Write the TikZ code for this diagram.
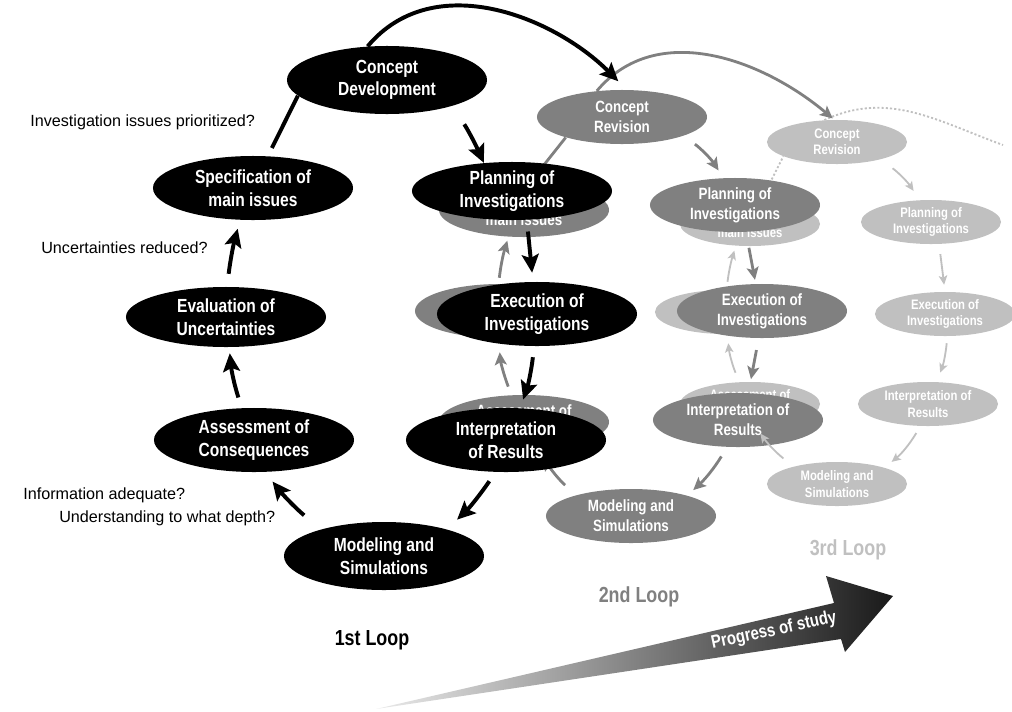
\documentclass[tikz,border=0pt]{standalone}
\usepackage{fontspec}
\setmainfont{Liberation Sans}
\newfontfamily\narrowfont[FakeStretch=0.82]{Liberation Sans}
\usetikzlibrary{shapes.geometric,arrows.meta}
\definecolor{loopgray}{HTML}{808080}
\definecolor{looplight}{HTML}{C0C0C0}

\begin{document}
\begin{tikzpicture}[x=0.025cm, y=0.025cm,
        firstloop/.style={ellipse, fill=black, text=white, inner sep=0pt, align=center,
            minimum width=5cm, minimum height=1.6cm,
            font=\narrowfont\bfseries\fontsize{13.5}{16}\selectfont},
        secondloop/.style={firstloop, fill=loopgray, minimum width=4.25cm, minimum height=1.35cm,
            font=\narrowfont\bfseries\fontsize{11.6}{14.2}\selectfont},
        thirdloop/.style={firstloop, fill=looplight, minimum width=3.5cm, minimum height=1.1cm,
            font=\narrowfont\bfseries\fontsize{9.8}{11.5}\selectfont},
        firstarrow/.style={draw=black, line width=2.8pt, -{Stealth[length=13pt,width=12pt,inset=2.5pt]}},
        secondarrow/.style={draw=loopgray, line width=2pt, -{Stealth[length=9pt,width=8.5pt,inset=2pt]}},
        thirdarrow/.style={draw=looplight, line width=1.3pt, -{Stealth[length=6.5pt,width=6pt,inset=1.5pt]}},
        fadeline/.style={draw=looplight, line width=1.3pt, dash pattern=on 1.5pt off 1.5pt},
        question/.style={anchor=west, inner sep=0pt, font=\fontsize{11.5}{13}\selectfont},
        looplabel/.style={inner sep=0pt, font=\narrowfont\bfseries\fontsize{15.5}{18}\selectfont}
    ]
        \useasboundingbox (0,0) rectangle (1012,-711);

        % third loop
        \node[thirdloop] (spec3) at (750,-224) {Specification of\\main issues};
        \node[thirdloop] (eval3) at (725,-312) {Evaluation of\\Uncertainties};
        \node[thirdloop] (assess3) at (750,-404) {Assessment of\\Consequences};
        \node[thirdloop] (crev3) at (837,-142) {Concept\\Revision};
        \node[thirdloop] (plan3) at (931,-222) {Planning of\\Investigations};
        \node[thirdloop] (exec3) at (945,-314) {Execution of\\Investigations};
        \node[thirdloop] (interp3) at (928,-404) {Interpretation of\\Results};
        \node[thirdloop] (model3) at (837,-484) {Modeling and\\Simulations};
        \coordinate (fade3) at (1003,-145);

        \draw[thirdarrow, shorten <=0.375cm, shorten >=0.275cm] (crev3.-22) to[bend left=10] (plan3.117);
        \draw[thirdarrow, shorten <=0.25cm, shorten >=0.175cm] (plan3.-70) -- (exec3.90);
        \draw[thirdarrow, shorten <=0.175cm, shorten >=0.25cm] (exec3.-84) to[bend left=8] (interp3.69);
        \draw[thirdarrow, shorten <=0.2cm, shorten >=0.225cm] (interp3.-109) to[bend left=10] (model3.19);
        \draw[thirdarrow, shorten <=0.25cm, shorten >=0.225cm] (assess3.116) to[bend left=8] (eval3.-84);
        \draw[thirdarrow, shorten <=0.2cm, shorten >=0.125cm] (eval3.86) to[bend left=5] (spec3.-123);
        \draw[fadeline] (spec3.65) -- (crev3.-165);
        \draw[fadeline] (crev3.120) to[out=25, in=160] (fade3);

        % second loop
        \node[secondloop] (spec2) at (524,-210) {Specification of\\main issues};
        \node[secondloop] (eval2) at (500,-311) {Evaluation of\\Uncertainties};
        \node[secondloop] (assess2) at (524,-422) {Assessment of\\Consequences};
        \node[secondloop] (crev2) at (622,-117) {Concept\\Revision};
        \node[secondloop] (plan2) at (735,-205) {Planning of\\Investigations};
        \node[secondloop] (exec2) at (762,-311) {Execution of\\Investigations};
        \node[secondloop] (interp2) at (738,-420) {Interpretation of\\Results};
        \node[secondloop] (model2) at (631,-516) {Modeling and\\Simulations};

        \draw[thirdarrow, shorten <=0.325cm, shorten >=0.225cm] (model3.158) to[bend left=8] (assess3.-77);

        \draw[secondarrow, shorten <=0.35cm, shorten >=0.225cm] (crev2.-17) to[bend left=10] (plan2.113);
        \draw[secondarrow, shorten <=0.4cm, shorten >=0.1cm] (plan2.-68) -- (exec2.103);
        \draw[secondarrow, shorten <=0.3cm, shorten >=0.35cm] (exec2.-97) -- (interp2.69);
        \draw[secondarrow, shorten <=0.275cm, shorten >=0.2cm] (interp2.-112) to[bend left=8] (model2.20);
        \draw[secondarrow, shorten <=0.375cm, shorten >=0.25cm] (model2.159) to[bend left=10] (assess2.-60);
        \draw[secondarrow, shorten <=0.225cm, shorten >=0.35cm] (assess2.115) to[bend left=8] (eval2.-93);
        \draw[secondarrow, shorten <=0.15cm, shorten >=0.1cm] (eval2.93) to[bend left=5] (spec2.-120);
        \draw[loopgray, line width=2pt] (spec2.78) -- (crev2.-160);
        \draw[secondarrow, shorten >=0.05cm] (crev2.134) to[out=50, in=140] (crev3.97);

        % first loop
        \node[firstloop, minimum height=1.7cm] (cdev) at (387,-80) {Concept\\Development};
        \node[firstloop, minimum height=1.45cm] (plan1) at (512,-191) {Planning of\\Investigations};
        \node[firstloop] (exec1) at (537,-314) {Execution of\\Investigations};
        \node[firstloop] (interp1) at (506,-440) {Interpretation\\of Results};
        \node[firstloop, minimum height=1.7cm] (model1) at (384,-556) {Modeling and\\Simulations};
        \node[firstloop] (assess1) at (254,-440) {Assessment of\\Consequences};
        \node[firstloop, minimum height=1.5cm] (eval1) at (226,-317) {Evaluation of\\Uncertainties};
        \node[firstloop] (spec1) at (253,-188) {Specification of\\main issues};

        \draw[firstarrow, shorten <=0.55cm] (cdev.-22) to[bend left=5] (plan1.135);
        \draw[firstarrow, shorten <=0.29cm, shorten >=0.225cm] (plan1.-63) -- (exec1.97);
        \draw[firstarrow, shorten <=0.275cm, shorten >=0.225cm] (exec1.-95) to[bend left=6] (interp1.66);
        \draw[firstarrow, shorten <=0.275cm, shorten >=0.35cm] (interp1.-108) to[bend left=6] (model1.23);
        \draw[firstarrow, shorten <=0.55cm, shorten >=0.3cm] (model1.157) to[bend left=6] (assess1.-71);
        \draw[firstarrow, shorten <=0.275cm, shorten >=0.15cm] (assess1.111) to[bend left=6] (eval1.-84);
        \draw[firstarrow, shorten <=0.325cm, shorten >=0.225cm] (eval1.88) to[bend left=4] (spec1.-112);
        \draw[line width=2.8pt, shorten <=0.225cm] (spec1.65) -- (cdev.-170);
        \draw[firstarrow, shorten >=0.3cm] (cdev.120) to[out=50, in=135] (crev2.80);

        % questions and labels
        \node[question] (qprior) at (30,-122) {Investigation issues prioritized?};
        \node[question] (qreduce) at (41,-248) {Uncertainties reduced?};
        \node[question] (qadequate) at (23,-495) {Information adequate?};
        \node[question] (qdepth) at (59,-518) {Understanding to what depth?};

        \node[looplabel] (lone) at (372,-640) {1st Loop};
        \node[looplabel, text=loopgray] (ltwo) at (639,-597) {2nd Loop};
        \node[looplabel, text=looplight] (lthree) at (848,-550) {3rd Loop};

        % progress arrow
        \shade[left color=black!8, right color=black!90]
            (376,-709) -- (834,-603) -- (826,-576) -- (893,-596) -- (845,-652) -- (841,-639) -- cycle;
        \node[rotate=12, text=white, inner sep=0pt,
            font=\narrowfont\bfseries\fontsize{13}{15}\selectfont] (progress) at (774,-631) {Progress of study};
    \end{tikzpicture}
\end{document}
